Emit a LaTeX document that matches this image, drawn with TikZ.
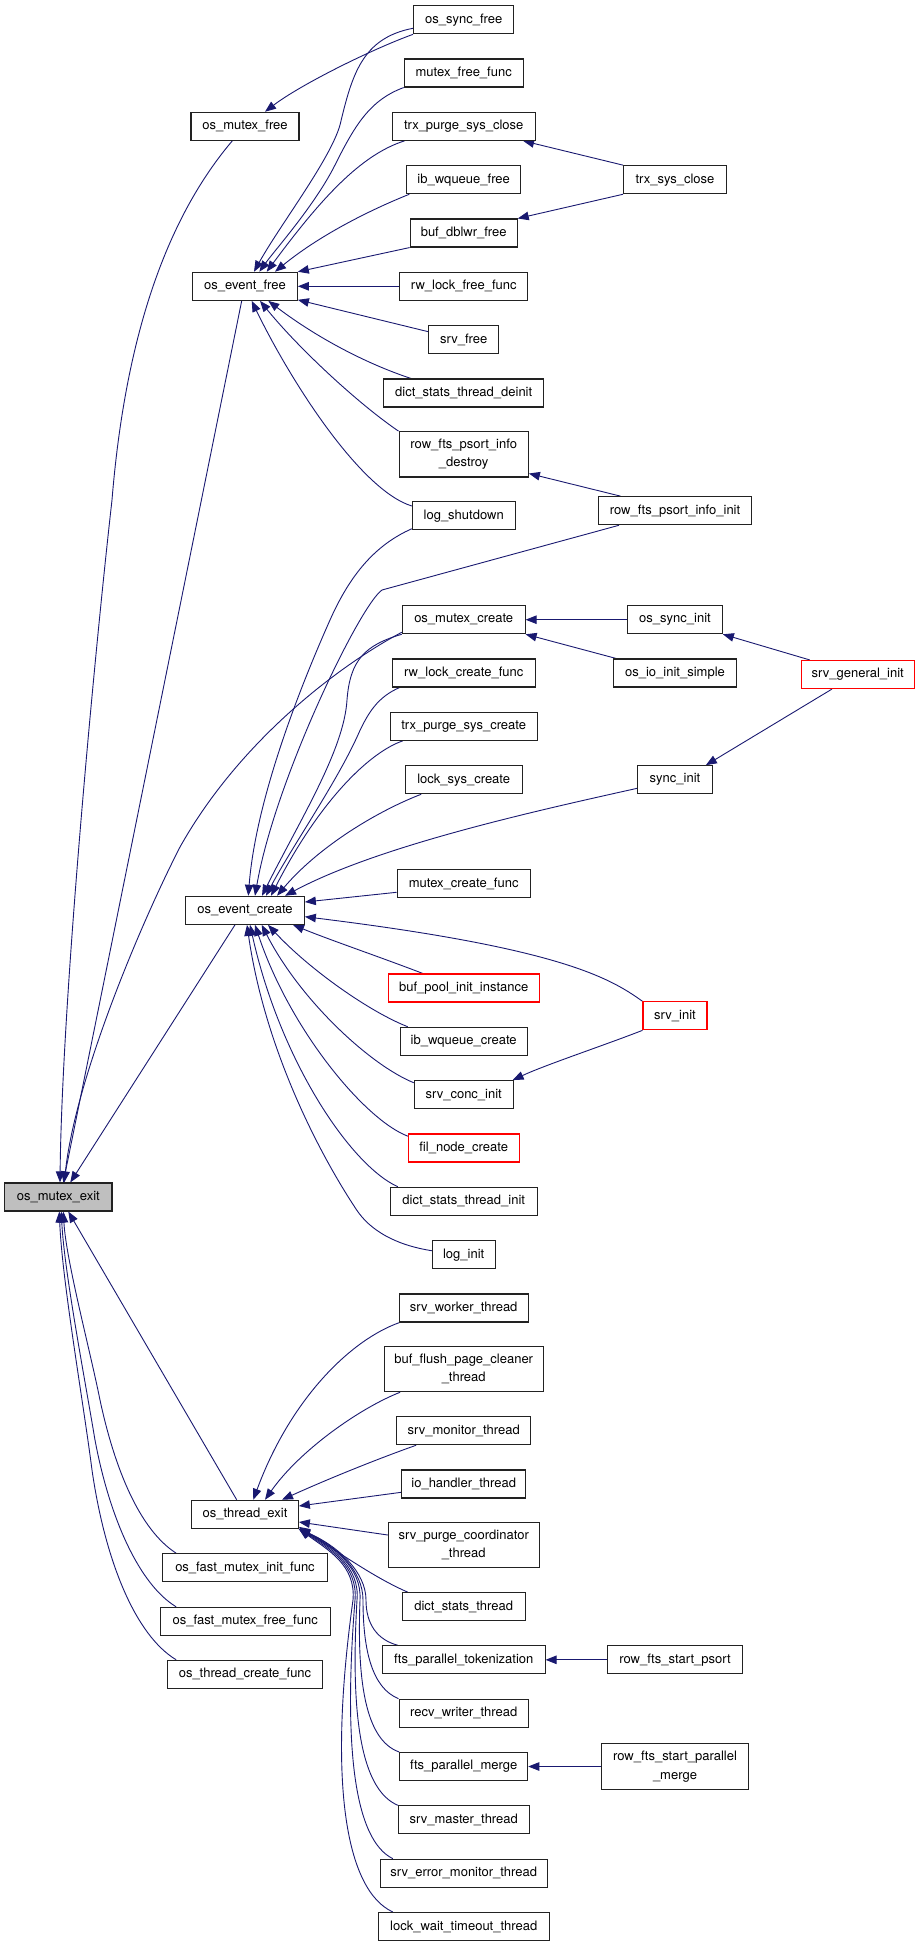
\documentclass[tikz,border=0pt]{standalone}
\usepackage{fontspec}
\setmainfont{TeX Gyre Heros}
\usetikzlibrary{arrows.meta,backgrounds}
\definecolor{edgec}{HTML}{191970}
\definecolor{nodeborder}{HTML}{222222}
\newcommand\fsz{\fontsize{13}{18.3}\selectfont}
\begin{document}
\begin{tikzpicture}[x=1pt,y=-1pt,
  fn/.style={draw=nodeborder, line width=1.1pt, fill=white, minimum height=28pt, inner sep=0pt, font=\fsz, align=center},
  fnred/.style={fn, draw=red},
  fngray/.style={fn, fill=gray!50},
  fntwo/.style={fn, minimum height=45pt},
  edge/.style={draw=edgec, line width=0.9pt, -{Triangle[length=11pt,width=8.5pt]}}
]
\useasboundingbox (0,0) rectangle (920,1947);

% ---------- nodes ----------
\node[fngray, minimum width=107.3pt] (mx) at (58.3,1197) {os\_mutex\_exit};

\node[fn, minimum width=108pt] (mfree) at (245,126.3) {os\_mutex\_free};
\node[fn, minimum width=104.6pt] (efree) at (245,286.3) {os\_event\_free};
\node[fn, minimum width=118.6pt] (ecreate) at (245,910.3) {os\_event\_create};
\node[fn, minimum width=106.6pt] (texit) at (245,1514.3) {os\_thread\_exit};
\node[fn, minimum width=164.6pt] (fminit) at (245,1567.7) {os\_fast\_mutex\_init\_func};
\node[fn, minimum width=169.7pt] (fmfree) at (245.2,1621.3) {os\_fast\_mutex\_free\_func};
\node[fn, minimum width=154.6pt] (tcreate) at (245,1674.3) {os\_thread\_create\_func};

\node[fn, minimum width=100.4pt] (sfree) at (463.7,19.8) {os\_sync\_free};
\node[fn, minimum width=119pt] (mff) at (463.7,73) {mutex\_free\_func};
\node[fn, minimum width=142.7pt] (tpsc) at (463.7,126.3) {trx\_purge\_sys\_close};
\node[fn, minimum width=113.7pt] (iwf) at (463.7,179.7) {ib\_wqueue\_free};
\node[fn, minimum width=107pt] (bdf) at (463.7,233) {buf\_dblwr\_free};
\node[fn, minimum width=128.3pt] (rlff) at (463.7,286.3) {rw\_lock\_free\_func};
\node[fn, minimum width=69.7pt] (srvfree) at (463.7,339.7) {srv\_free};
\node[fn, minimum width=160.3pt] (dstd) at (463.7,393) {dict\_stats\_thread\_deinit};
\node[fntwo, minimum width=129.3pt, minimum height=45.3pt] (rfpid) at (463.7,454.3) {row\_fts\_psort\_info\\\_destroy};
\node[fn, minimum width=102.7pt] (lsd) at (463.7,515.7) {log\_shutdown};
\node[fn, minimum width=122.7pt] (omc) at (463.7,619.7) {os\_mutex\_create};
\node[fn, minimum width=142.7pt] (rlcf) at (463.7,673) {rw\_lock\_create\_func};
\node[fn, minimum width=146.7pt] (tpscr) at (463.7,726.3) {trx\_purge\_sys\_create};
\node[fn, minimum width=117.3pt] (lsc) at (463.7,779.7) {lock\_sys\_create};
\node[fn, minimum width=133.3pt] (mcf) at (463.7,883.7) {mutex\_create\_func};
\node[fnred, minimum width=150.7pt] (bpii) at (463.7,988) {buf\_pool\_init\_instance};
\node[fn, minimum width=126.7pt] (iwc) at (463.7,1041.3) {ib\_wqueue\_create};
\node[fn, minimum width=98.7pt] (sci) at (463.7,1094.7) {srv\_conc\_init};
\node[fnred, minimum width=110.7pt] (fnc) at (463.7,1148) {fil\_node\_create};
\node[fn, minimum width=146.7pt] (dsti) at (463.7,1201.3) {dict\_stats\_thread\_init};
\node[fn, minimum width=62.7pt] (li) at (463.7,1254.7) {log\_init};
\node[fn, minimum width=129.3pt] (swt) at (463.7,1308) {srv\_worker\_thread};
\node[fntwo, minimum width=158.7pt] (bfpct) at (463.7,1369.2) {buf\_flush\_page\_cleaner\\\_thread};
\node[fn, minimum width=133.7pt] (smt) at (463.7,1430.7) {srv\_monitor\_thread};
\node[fn, minimum width=124pt] (iht) at (463.7,1484) {io\_handler\_thread};
\node[fntwo, minimum width=150.7pt] (spct) at (463.7,1545.2) {srv\_purge\_coordinator\\\_thread};
\node[fn, minimum width=122.7pt] (dst) at (463.7,1606.7) {dict\_stats\_thread};
\node[fn, minimum width=162.7pt] (fpt) at (463.7,1659.8) {fts\_parallel\_tokenization};
\node[fn, minimum width=129.3pt] (rwt) at (463.7,1713.2) {recv\_writer\_thread};
\node[fn, minimum width=128pt] (fpm) at (463.7,1766.5) {fts\_parallel\_merge};
\node[fn, minimum width=130.7pt] (smast) at (463.7,1819.8) {srv\_master\_thread};
\node[fn, minimum width=166.7pt] (semt) at (463.7,1873.2) {srv\_error\_monitor\_thread};
\node[fn, minimum width=170.7pt] (lwtt) at (463.7,1926.5) {lock\_wait\_timeout\_thread};

\node[fn, minimum width=102.8pt] (tsc) at (675,179.7) {trx\_sys\_close};
\node[fn, minimum width=153.8pt] (rfpii) at (675,510.7) {row\_fts\_psort\_info\_init};
\node[fn, minimum width=94.6pt] (osi) at (675,619.7) {os\_sync\_init};
\node[fn, minimum width=122.7pt] (oiis) at (675,673) {os\_io\_init\_simple};
\node[fn, minimum width=74.6pt] (si) at (675,779.7) {sync\_init};
\node[fnred, minimum width=64pt] (sinit) at (675,1015.8) {srv\_init};
\node[fn, minimum width=134.4pt] (rfsp) at (675,1659.8) {row\_fts\_start\_psort};
\node[fntwo, minimum width=146.8pt, minimum height=45.6pt] (rfspm) at (675,1766.5) {row\_fts\_start\_parallel\\\_merge};

\node[fnred, minimum width=113.3pt] (sgi) at (857.7,674.5) {srv\_general\_init};

% ---------- edges ----------
\begin{scope}[on background layer]
% into os_mutex_exit
\draw[edge] ([xshift=-12.7pt]mfree.south) .. controls (165,220) and (125,340) .. (112,500) .. controls (95,650) and (62,1000) .. ([xshift=1.7pt]mx.north);
\draw[edge] ([xshift=-3.3pt]efree.south) -- ([xshift=5pt]mx.north);
\draw[edge] ([yshift=2pt]omc.south west) .. controls (340,665) and (240,740) .. (180,847) .. controls (140,925) and (75,1080) .. ([xshift=6pt]mx.north);
\draw[edge] ([xshift=-10pt]ecreate.south) -- ([xshift=12pt]mx.north);
\draw[edge] ([xshift=-8.3pt]texit.north) -- ([xshift=10pt]mx.south);
\draw[edge] ([xshift=14pt]fminit.north west) .. controls (140,1530) and (115,1470) .. (100,1400) .. controls (90,1350) and (66,1260) .. ([xshift=5pt]mx.south);
\draw[edge] ([xshift=16.3pt]fmfree.north west) .. controls (140,1585) and (110,1520) .. (95,1440) .. controls (85,1380) and (64,1270) .. ([xshift=3pt]mx.south);
\draw[edge] ([xshift=9pt]tcreate.north west) .. controls (135,1635) and (105,1560) .. (92,1470) .. controls (83,1400) and (62,1280) .. ([xshift=1pt]mx.south);

% into os_mutex_free / os_event_free
\draw[edge] (sfree.south west) .. controls (370,50) and (300,85) .. ([xshift=20pt]mfree.north);
\draw[edge] ([yshift=-8.5pt]sfree.west) .. controls (362,38) and (352,75) .. (340,125) .. controls (330,160) and (280,225) .. ([xshift=9pt]efree.north);
\draw[edge] (mff.south west) .. controls (370,100) and (355,125) .. (335,165) .. controls (315,205) and (275,250) .. ([xshift=14.3pt]efree.north);
\draw[edge] ([xshift=12.7pt]tpsc.south west) .. controls (360,155) and (320,200) .. ([xshift=21.7pt]efree.north);
\draw[edge] ([xshift=3pt]iwf.south west) .. controls (370,210) and (320,235) .. ([xshift=30pt]efree.north);
\draw[edge] (bdf.south west) -- (efree.north east);
\draw[edge] (rlff.west) -- (efree.east);
\draw[edge] ([yshift=8pt]srvfree.west) -- ([yshift=1pt]efree.south east);
\draw[edge] ([xshift=28pt]dstd.north west) .. controls (370,365) and (320,340) .. ([xshift=23.3pt]efree.south);
\draw[edge] (rfpid.north west) .. controls (360,405) and (300,350) .. ([xshift=15pt]efree.south);
\draw[edge] ([yshift=9.7pt]lsd.west) .. controls (360,490) and (290,380) .. ([xshift=6.7pt]efree.south);

% into os_event_create
\draw[edge] ([yshift=1.5pt]lsd.south west) .. controls (375,545) and (350,575) .. (330,620) .. controls (290,710) and (255,810) .. ([xshift=3.3pt]ecreate.north);
\draw[edge] ([xshift=21.5pt]rfpii.south west) -- (382,590) .. controls (360,605) and (275,780) .. ([xshift=10pt]ecreate.north);
\draw[edge] (omc.south west) .. controls (365,645) and (350,660) .. (347,700) .. controls (344,750) and (300,820) .. ([xshift=17pt]ecreate.north);
\draw[edge] ([xshift=7.7pt]rlcf.south west) .. controls (378,697) and (368,712) .. (357,737) .. controls (335,785) and (290,850) .. ([xshift=21pt]ecreate.north);
\draw[edge] ([xshift=13pt]tpscr.south west) .. controls (370,752) and (320,800) .. ([xshift=26pt]ecreate.north);
\draw[edge] ([xshift=16.7pt]lsc.south west) .. controls (380,810) and (320,845) .. ([xshift=32pt]ecreate.north);
\draw[edge] ([yshift=-8.6pt]si.west) .. controls (540,810) and (380,845) .. ([xshift=40pt]ecreate.north);
\draw[edge] ([yshift=-8.6pt]mcf.west) -- ([yshift=8.3pt]ecreate.east);
\draw[edge] (sinit.north west) .. controls (610,978) and (560,948) .. ([yshift=-6.4pt]ecreate.east);
\draw[edge] ([xshift=35pt]bpii.north west) .. controls (380,957) and (330,940) .. ([xshift=48pt]ecreate.south);
\draw[edge] ([xshift=8pt]iwc.north west) .. controls (370,1012) and (310,970) .. ([xshift=23pt]ecreate.south);
\draw[edge] ([yshift=-2.6pt]sci.north west) .. controls (370,1065) and (300,1000) .. ([xshift=16.7pt]ecreate.south);
\draw[edge] ([yshift=-2.7pt]fnc.north west) .. controls (365,1120) and (290,1030) .. ([xshift=10pt]ecreate.south);
\draw[edge] ([xshift=8pt]dsti.north west) .. controls (350,1165) and (280,1060) .. ([xshift=5pt]ecreate.south);
\draw[edge] ([yshift=4pt]li.west) .. controls (395,1245) and (370,1230) .. (356.7,1210) .. controls (320,1155) and (265,1050) .. ([xshift=2pt]ecreate.south);

% rank 3 / 4 edges
\draw[edge] (osi.west) -- (omc.east);
\draw[edge] ([xshift=3pt]oiis.north west) -- (omc.south east);
\draw[edge] ([xshift=9.3pt]sgi.north west) -- (osi.south east);
\draw[edge] ([xshift=31.5pt]sgi.south west) -- ([xshift=-7pt]si.north east);
\draw[edge] (tsc.north west) -- ([xshift=-12.5pt]tpsc.south east);
\draw[edge] (tsc.south west) -- (bdf.north east);
\draw[edge] ([xshift=23pt]rfpii.north west) -- ([yshift=4pt]rfpid.south east);
\draw[edge] (sinit.south west) .. controls (605,1045) and (545,1065) .. ([xshift=-1pt]sci.north east);
\draw[edge] (rfsp.west) -- (fpt.east);
\draw[edge] (rfspm.west) -- (fpm.east);

% into os_thread_exit
\draw[edge] ([xshift=1pt]swt.south west) .. controls (350,1340) and (290,1400) .. ([xshift=8.3pt]texit.north);
\draw[edge] ([xshift=16.3pt]bfpct.south west) .. controls (360,1408) and (300,1450) .. ([xshift=20pt]texit.north);
\draw[edge] ([xshift=19.8pt]smt.south west) .. controls (380,1458) and (330,1478) .. ([xshift=37pt]texit.north);
\draw[edge] ([yshift=-8.3pt]iht.west) -- ([yshift=8.3pt]texit.east);
\draw[edge] ([yshift=10.2pt]spct.west) -- ([yshift=-7.7pt]texit.east);
\draw[edge] ([xshift=6pt]dst.north west) .. controls (375,1578) and (340,1553) .. ([yshift=2pt]texit.south east);
\draw[edge] ([xshift=16pt]fpt.north west) .. controls (378,1640) and (366,1625) .. (366,1600) .. controls (366,1572) and (338,1546) .. (texit.south east);
\draw[edge] (rwt.north west) .. controls (372,1688) and (363,1650) .. (363,1600) .. controls (363,1570) and (336,1546) .. (texit.south east);
\draw[edge] (fpm.north west) .. controls (365,1740) and (357,1680) .. (360,1600) .. controls (362,1568) and (334,1547) .. (texit.south east);
\draw[edge] (smast.north west) .. controls (362,1790) and (350,1720) .. (357,1600) .. controls (360,1567) and (332,1548) .. (texit.south east);
\draw[edge] ([xshift=13pt]semt.north west) .. controls (355,1840) and (343,1750) .. (355,1600) .. controls (358,1566) and (330,1549) .. (texit.south east);
\draw[edge] ([xshift=15pt]lwtt.north west) .. controls (345,1890) and (328,1780) .. (353,1600) .. controls (356,1565) and (328,1550) .. (texit.south east);
\end{scope}
\end{tikzpicture}
\end{document}
